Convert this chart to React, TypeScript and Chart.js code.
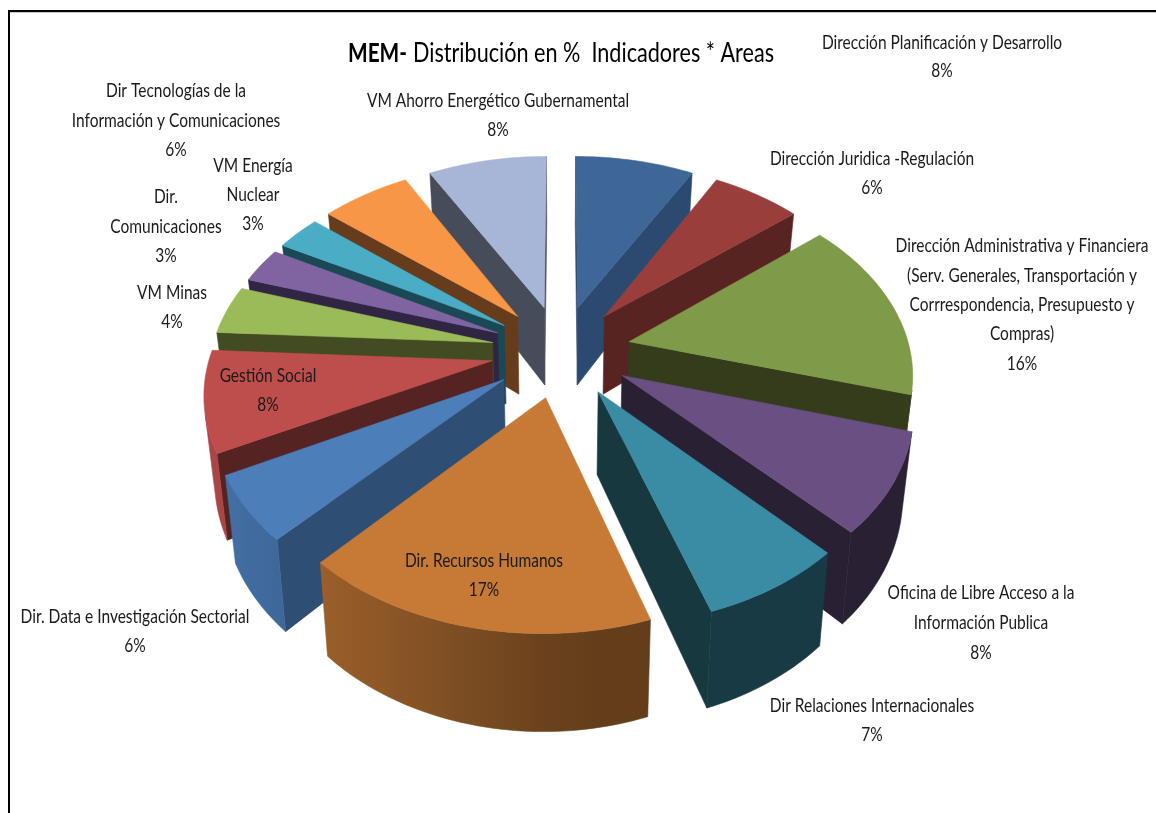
import React, { useEffect, useRef } from "react";
import { Chart, registerables } from "chart.js";

Chart.register(...registerables);

const categories = [
  "Dirección Planificación y Desarrollo",
  "Dirección Juridica -Regulación",
  "Dirección Administrativa y Financiera (Serv. Generales, Transportación y Corrrespondencia, Presupuesto y Compras)",
  "Oficina de Libre Acceso a la Información Publica",
  "Dir Relaciones Internacionales",
  "Dir. Recursos Humanos",
  "Dir. Data e Investigación Sectorial",
  "Gestión Social",
  "VM Minas",
  "Dir. Comunicaciones",
  "VM Energía Nuclear",
  "Dir Tecnologías de la Información y Comunicaciones",
  "VM Ahorro Energético Gubernamental",
];
const values = [8, 6, 15.5, 8.4, 7, 17, 5.5, 8.49, 4.11, 3, 3, 6, 8];

const labelLines: string[][] = [
  ["Dirección Planificación y Desarrollo"],
  ["Dirección Juridica -Regulación"],
  ["Dirección Administrativa y Financiera", "(Serv. Generales, Transportación y", "Corrrespondencia, Presupuesto y", "Compras)"],
  ["Oficina de Libre Acceso a la", "Información Publica"],
  ["Dir Relaciones Internacionales"],
  ["Dir. Recursos Humanos"],
  ["Dir. Data e Investigación Sectorial"],
  ["Gestión Social"],
  ["VM Minas"],
  ["Dir.", "Comunicaciones"],
  ["VM Energía", "Nuclear"],
  ["Dir Tecnologías de la", "Información y Comunicaciones"],
  ["VM Ahorro Energético Gubernamental"],
];

// label layout: centre x, centre y of first line, line pitch
const labelBoxes: number[][] = [
  [942, 43, 28], [872, 159, 29], [1022, 246, 29.3], [981, 593, 30], [872, 706, 29],
  [484, 561, 29], [135, 617, 29], [268, 376, 29], [172, 293, 29], [166, 197, 29.5],
  [253, 166, 29], [176, 91, 29.5], [498, 101, 29],
];

const topColors = [
  [62, 103, 151], [154, 62, 60], [127, 154, 72], [106, 80, 130], [58, 140, 165], [198, 122, 54],
  [76, 126, 186], [190, 78, 76], [155, 187, 89], [128, 100, 162], [75, 172, 198], [247, 150, 70], [167, 181, 214],
];
const wallColors = [
  [44, 74, 112], [88, 36, 34], [52, 60, 27], [42, 32, 52], [24, 56, 64], [100, 60, 28],
  [46, 78, 115], [86, 35, 35], [66, 75, 33], [48, 38, 68], [26, 72, 84], [102, 60, 28], [70, 76, 90],
];

const TEXT_FONT = 'Lato, "Open Sans", sans-serif';
const LABEL_SIZE = 20;
const LABEL_SQUEEZE = 0.775;

// view of the tilted pie
const view = { cx: 561, cy: 351, radius: 281, tilt: 0.66, focal: 1900, depth: 80, taper: 0.03 };

function project(U: number, V: number, z: number) {
  const p = 1 / (1 - V / view.focal);
  const x = view.cx + U * p * (1 - (view.taper * z) / view.depth);
  const y = view.cy + view.tilt * V * p + z * p;
  return [x, y];
}

function rgb(c: number[], f = 1) {
  return `rgb(${Math.round(c[0] * f)},${Math.round(c[1] * f)},${Math.round(c[2] * f)})`;
}

function fillPoly(ctx: CanvasRenderingContext2D, pts: number[][], color: any) {
  ctx.beginPath();
  pts.forEach((q, i) => (i ? ctx.lineTo(q[0], q[1]) : ctx.moveTo(q[0], q[1])));
  ctx.closePath();
  ctx.fillStyle = color;
  ctx.strokeStyle = color;
  ctx.lineWidth = 0.6;
  ctx.fill();
  ctx.stroke();
}

function area(pts: number[][]) {
  let s = 0;
  for (let i = 0; i < pts.length; i++) {
    const a = pts[i];
    const b = pts[(i + 1) % pts.length];
    s += a[0] * b[1] - b[0] * a[1];
  }
  return s / 2;
}

function squeezedText(ctx: CanvasRenderingContext2D, t: string, x: number, y: number, sx: number) {
  ctx.save();
  ctx.translate(x, y);
  ctx.scale(sx, 1);
  ctx.fillText(t, 0, 0);
  ctx.restore();
}

const pie3d = {
  id: "pie3d",
  beforeDatasetsDraw(chart: any) {
    const ctx: CanvasRenderingContext2D = chart.ctx;
    const arcs = chart.getDatasetMeta(0).data;
    const order = arcs
      .map((arc: any, i: number) => ({ arc, i, mid: (arc.startAngle + arc.endAngle) / 2 }))
      .sort((a: any, b: any) => Math.sin(a.mid) - Math.sin(b.mid));
    ctx.save();
    for (const { arc, i, mid } of order) {
      const e = arc.options.offset;
      const ox = e * Math.cos(mid);
      const oy = e * Math.sin(mid);
      const n = Math.max(8, Math.ceil((arc.endAngle - arc.startAngle) * 40));
      const rim: number[][] = [];
      for (let k = 0; k <= n; k++) {
        const a = arc.startAngle + ((arc.endAngle - arc.startAngle) * k) / n;
        rim.push([ox + view.radius * Math.cos(a), oy + view.radius * Math.sin(a)]);
      }
      const wallFactor = wallColors[i][0] / topColors[i][0];
      const apex = [ox, oy];
      const wallQuad = (P: number[], Q: number[]) => [
        project(P[0], P[1], 0),
        project(Q[0], Q[1], 0),
        project(Q[0], Q[1], view.depth),
        project(P[0], P[1], view.depth),
      ];
      // flat radial walls
      for (const [P, Q] of [[apex, rim[0]], [rim[n], apex]]) {
        const quad = wallQuad(P, Q);
        if (area(quad) < 0) fillPoly(ctx, quad, rgb(wallColors[i]));
      }
      // curved wall, as one shape with a shading gradient
      const tops: number[][] = [];
      const bottoms: number[][] = [];
      for (let k = 0; k < n; k++) {
        const quad = wallQuad(rim[k], rim[k + 1]);
        if (area(quad) < 0) {
          if (!tops.length) {
            tops.push(quad[0]);
            bottoms.push(quad[3]);
          }
          tops.push(quad[1]);
          bottoms.push(quad[2]);
        }
      }
      if (tops.length) {
        const shape = [...tops, ...bottoms.reverse()];
        const xs = shape.map((q) => q[0]);
        const x0 = Math.min(...xs);
        const x1 = Math.max(...xs);
        const g = ctx.createLinearGradient(x0, 0, x1 + 0.01, 0);
        for (let s = 0; s <= 6; s++) {
          const xm = x0 + ((x1 - x0) * s) / 6;
          const f = Math.max(wallFactor, Math.min(0.9, 0.78 - (xm - 320) * 0.00107));
          g.addColorStop(s / 6, rgb(topColors[i], f));
        }
        fillPoly(ctx, shape, g);
      }
      fillPoly(ctx, [apex, ...rim].map((q) => project(q[0], q[1], 0)), rgb(topColors[i]));
    }
    ctx.restore();
    return false;
  },
  afterDraw(chart: any) {
    const ctx: CanvasRenderingContext2D = chart.ctx;
    ctx.save();
    // frame
    ctx.fillStyle = "#c8c8c8";
    ctx.fillRect(10, 12, 1146, 1);
    ctx.fillStyle = "#000";
    ctx.fillRect(8, 10, 1148, 2);
    ctx.fillRect(8, 10, 2, 803);
    // title
    ctx.textBaseline = "middle";
    ctx.textAlign = "left";
    ctx.fillStyle = "#000";
    ctx.font = `bold 26px ${TEXT_FONT}`;
    const head = "MEM-";
    squeezedText(ctx, head, 348, 54, 59 / ctx.measureText(head).width);
    ctx.font = `26px ${TEXT_FONT}`;
    const rest = "Distribución en %  Indicadores * Areas";
    squeezedText(ctx, rest, 413, 54, 361 / ctx.measureText(rest).width);
    // labels
    ctx.font = `${LABEL_SIZE}px ${TEXT_FONT}`;
    ctx.textAlign = "center";
    ctx.fillStyle = "#1a1a1a";
    labelLines.forEach((lines, i) => {
      const [x, y, pitch] = labelBoxes[i];
      [...lines, `${Math.round(values[i])}%`].forEach((t, k) => squeezedText(ctx, t, x, y + k * pitch, LABEL_SQUEEZE));
    });
    ctx.restore();
  },
};

export default function App() {
  const ref = useRef<HTMLCanvasElement>(null);
  useEffect(() => {
    const chart = new Chart(ref.current!, {
      type: "pie",
      data: {
        labels: categories,
        datasets: [
          {
            data: values,
            backgroundColor: topColors.map((c) => rgb(c)),
            borderWidth: 0,
            offset: 70,
          },
        ],
      },
      options: {
        animation: false,
        responsive: false,
        devicePixelRatio: 1,
        events: [],
        plugins: { legend: { display: false }, tooltip: { enabled: false }, title: { display: false } },
      },
      plugins: [pie3d],
    } as any);
    return () => chart.destroy();
  }, []);
  return (
    <div style={{ position: "absolute", left: 0, top: 0, width: 1156, height: 813, background: "#fff", overflow: "hidden" }}>
      <canvas ref={ref} width={1156} height={813} style={{ display: "block" }} />
    </div>
  );
}
